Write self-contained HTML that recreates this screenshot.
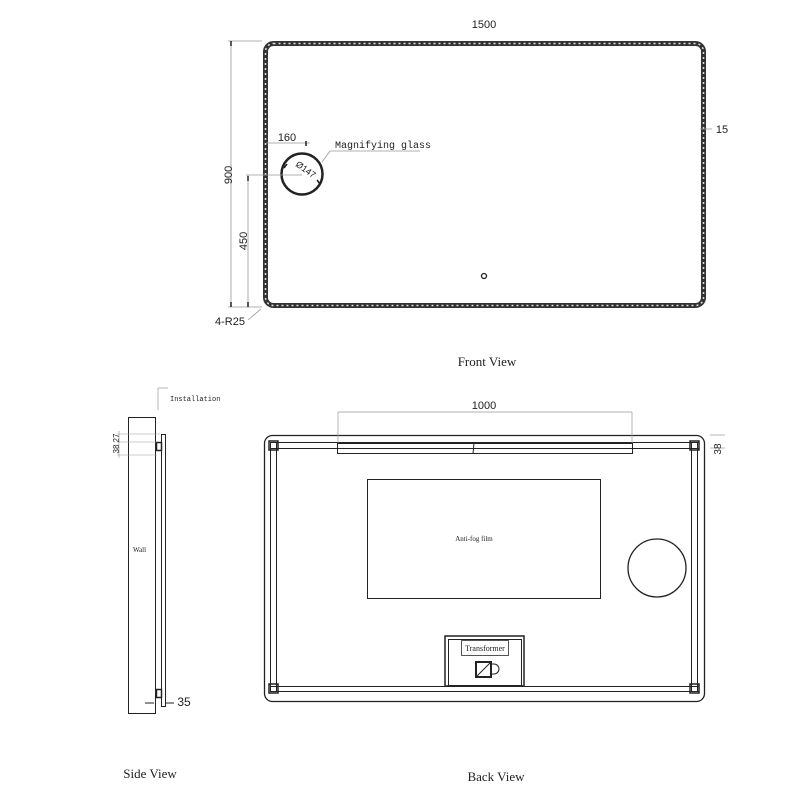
<!DOCTYPE html>
<html><head><meta charset="utf-8"><style>
html,body{margin:0;padding:0;background:#fff;}
svg{display:block;}
text{font-family:"Liberation Sans",sans-serif;fill:#222;}
.m{font-family:"Liberation Mono",monospace;}
.s{font-family:"Liberation Serif",serif;}
</style></head><body>
<svg width="800" height="800" viewBox="0 0 800 800" xmlns="http://www.w3.org/2000/svg">
<!-- FRONT VIEW -->
<g fill="none">
<rect x="265.5" y="43.5" width="438" height="262" rx="8" stroke="#333" stroke-width="5"/>
<rect x="265.5" y="43.5" width="438" height="262" rx="8" stroke="#ddd" stroke-width="1.5" stroke-dasharray="2 3"/>
<circle cx="302" cy="174" r="20.5" stroke="#222" stroke-width="2.5"/>
<circle cx="484" cy="276" r="2.5" stroke="#222" stroke-width="1.3"/>
<g stroke="#999" stroke-width="0.8">
<line x1="228" y1="41" x2="262" y2="41"/>
<line x1="228" y1="307" x2="262" y2="307"/>
<line x1="231" y1="41" x2="231" y2="307"/>
<line x1="246" y1="175" x2="302" y2="175"/>
<line x1="248" y1="175" x2="248" y2="307"/>
<line x1="266" y1="143" x2="310" y2="143"/>
<line x1="330" y1="151" x2="420" y2="151"/>
<line x1="330" y1="151" x2="322" y2="162"/>
<line x1="261" y1="309" x2="248" y2="320"/>
<line x1="700" y1="129" x2="712" y2="129"/>
</g>
<g stroke="#222" stroke-width="1.5">
<line x1="231" y1="41" x2="231" y2="46"/><line x1="231" y1="302" x2="231" y2="307"/>
<line x1="248" y1="176" x2="248" y2="181"/><line x1="248" y1="302" x2="248" y2="307"/>
<line x1="306" y1="141" x2="306" y2="146"/>
<line x1="287" y1="164" x2="284" y2="168"/><line x1="317" y1="180" x2="320" y2="184"/>
</g>
</g>
<text x="484" y="28" font-size="11" text-anchor="middle">1500</text>
<text transform="translate(232,175) rotate(-90)" font-size="11" text-anchor="middle">900</text>
<text transform="translate(247,241) rotate(-90)" font-size="11" text-anchor="middle">450</text>
<text x="230" y="325" font-size="11" text-anchor="middle">4-R25</text>
<text x="287" y="141" font-size="11" text-anchor="middle">160</text>
<text x="335" y="148" font-size="10" class="m">Magnifying glass</text>
<text x="722" y="133" font-size="11" text-anchor="middle">15</text>
<text transform="translate(304,172) rotate(35)" font-size="9" text-anchor="middle">Ø147</text>
<text x="487" y="366" font-size="13" class="s" text-anchor="middle">Front View</text>

<!-- SIDE VIEW -->
<g fill="none" stroke="#222" stroke-width="1">
<rect x="128.5" y="417.5" width="27" height="296"/>
<rect x="161.5" y="434.5" width="4" height="272"/>
<rect x="156.5" y="442.5" width="5" height="8" stroke-width="1.5"/>
<rect x="156.5" y="689.5" width="5" height="8" stroke-width="1.5"/>
<line x1="158" y1="388" x2="158" y2="410" stroke="#999" stroke-width="0.7"/>
<line x1="158" y1="388" x2="168" y2="388" stroke="#999" stroke-width="0.7"/>
<g stroke="#999" stroke-width="0.6">
<line x1="117" y1="434" x2="160" y2="434"/>
<line x1="117" y1="442" x2="157" y2="442"/>
<line x1="117" y1="455" x2="157" y2="455"/>
<line x1="119" y1="431" x2="119" y2="458"/>
</g>
<line x1="145" y1="703" x2="154" y2="703" stroke-width="1"/>
<line x1="166" y1="703" x2="174" y2="703" stroke-width="1"/>
</g>
<text x="170" y="401" font-size="7" class="m">Installation</text>
<text transform="translate(119,438) rotate(-90)" font-size="8" text-anchor="middle">27</text>
<text transform="translate(119,449) rotate(-90)" font-size="8" text-anchor="middle">38</text>
<text x="133" y="552" font-size="7" class="s" fill="#666">Wall</text>
<text x="184" y="706" font-size="12" text-anchor="middle">35</text>
<text x="150" y="778" font-size="13" class="s" text-anchor="middle">Side View</text>

<!-- BACK VIEW -->
<g fill="none" stroke="#222" stroke-width="1">
<rect x="264.5" y="435.5" width="440" height="266" rx="8" stroke-width="1.3"/>
<line x1="270" y1="442.5" x2="699" y2="442.5"/>
<line x1="270" y1="448.5" x2="699" y2="448.5"/>
<line x1="270" y1="686.5" x2="699" y2="686.5"/>
<line x1="270" y1="691.5" x2="699" y2="691.5"/>
<line x1="270.5" y1="442" x2="270.5" y2="692"/>
<line x1="276.5" y1="442" x2="276.5" y2="692"/>
<line x1="691.5" y1="442" x2="691.5" y2="692"/>
<line x1="697.5" y1="442" x2="697.5" y2="692"/>
<g stroke-width="1.5">
<rect x="269" y="441" width="9" height="9"/>
<rect x="690" y="441" width="9" height="9"/>
<rect x="269" y="684" width="9" height="9"/>
<rect x="690" y="684" width="9" height="9"/>
</g>
<rect x="337.5" y="443.5" width="295" height="10"/>
<line x1="474" y1="443" x2="473" y2="454"/>
<g stroke="#999" stroke-width="0.7">
<line x1="338" y1="412" x2="632" y2="412"/>
<line x1="338" y1="412" x2="338" y2="443"/>
<line x1="632" y1="412" x2="632" y2="443"/>
<line x1="710" y1="435" x2="725" y2="435"/>
<line x1="710" y1="448" x2="725" y2="448"/>
</g>
<rect x="367.5" y="479.5" width="233" height="119"/>
<circle cx="657" cy="568" r="29" stroke-width="1.3"/>
<rect x="445" y="636" width="79" height="50" stroke-width="1.5"/>
<rect x="448.5" y="639.5" width="73" height="46"/>
<rect x="461.5" y="640.5" width="47" height="15" stroke="#555"/>
<rect x="476" y="662" width="15" height="15" stroke-width="2"/>
<line x1="477" y1="676" x2="490" y2="663"/>
<path d="M491 664 h3 a4 4 0 0 1 0 10 h-3"/>
</g>
<text x="484" y="409" font-size="11" text-anchor="middle">1000</text>
<text transform="translate(721,449) rotate(-90)" font-size="10" text-anchor="middle">38</text>
<text x="474" y="541" font-size="7" class="s" text-anchor="middle">Anti-fog film</text>
<text x="485" y="651" font-size="8" class="s" text-anchor="middle">Transformer</text>
<text x="496" y="781" font-size="13" class="s" text-anchor="middle">Back View</text>
</svg>
</body></html>
